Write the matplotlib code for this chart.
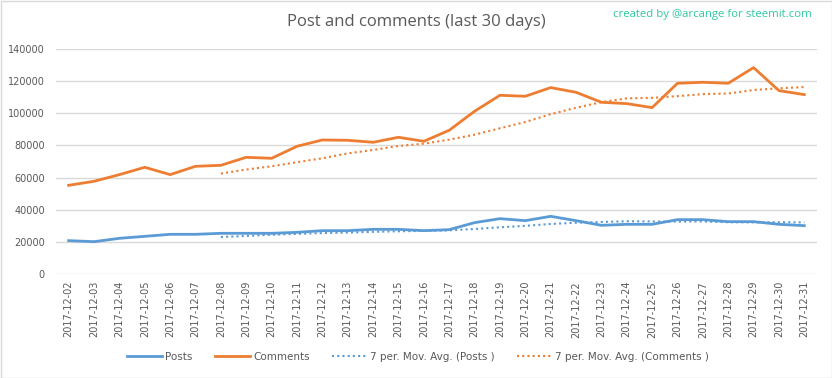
import matplotlib.pyplot as plt
import numpy as np
import pandas as pd
from matplotlib.patches import Rectangle

dates = ["2017-12-%02d" % d for d in range(2, 32)]

posts = [20750, 20120, 22200, 23440, 24690, 24690, 25310, 25310, 25310, 25930,
         26970, 26970, 27800, 27800, 26970, 27590, 31950, 34440, 33200, 35890,
         33200, 30290, 30910, 30910, 33820, 33820, 32570, 32570, 30910, 30080]

comments = [55190, 57680, 61830, 66390, 61830, 67010, 67630, 72610, 71990, 79460,
            83400, 83200, 81950, 85060, 82570, 89420, 101240, 111200, 110580, 115980,
            113070, 106850, 106020, 103530, 118670, 119290, 118670, 128420, 114110, 111620]

# 7 period moving average, as the spreadsheet trendline does it
posts_ma = pd.Series(posts).rolling(7).mean()
comments_ma = pd.Series(comments).rolling(7).mean()

blue = "#5B9BD5"
orange = "#ED7D31"
grey = "#595959"
font = ["DejaVu Sans"]

fig = plt.figure(figsize=(8.32, 3.78), dpi=100)
fig.patches.append(Rectangle((0.5 / 832, 0.5 / 378), 831 / 832, 377 / 378,
                             transform=fig.transFigure, fill=False,
                             edgecolor="#D9D9D9", linewidth=1))

ax = fig.add_axes([56 / 832, 1 - 274 / 378, 761 / 832, 225 / 378])
x = np.arange(len(dates))

ax.plot(x, posts, color=blue, lw=2, label="Posts")
ax.plot(x, comments, color=orange, lw=2, label="Comments")
ax.plot(x, posts_ma, color=blue, lw=1.5, ls=(0, (1, 1.5)), label="7 per. Mov. Avg. (Posts )")
ax.plot(x, comments_ma, color=orange, lw=1.5, ls=(0, (1, 1.5)), label="7 per. Mov. Avg. (Comments )")

ax.set_xlim(-0.5, len(dates) - 0.5)
ax.set_ylim(0, 140000)
ax.set_yticks(np.arange(0, 140001, 20000))
ax.set_yticklabels([str(v) for v in range(0, 140001, 20000)], family=font, fontsize=7, color=grey)
ax.set_xticks(x)
ax.set_xticklabels(dates, rotation=90, family=font, fontsize=7, color=grey)
ax.tick_params(axis="y", length=0, pad=8)
ax.tick_params(axis="x", length=0, pad=5)
ax.grid(axis="y", color="#D9D9D9", lw=1)
ax.set_axisbelow(True)
for s in ax.spines.values():
    s.set_visible(False)

fig.text(0.5, 1 - 22 / 378, "Post and comments (last 30 days)", ha="center", va="center",
         fontsize=12, color=grey, family=["Open Sans", "DejaVu Sans"])
fig.text(812 / 832, 1 - 15 / 378, "created by @arcange for steemit.com", ha="right", va="center",
         fontsize=8.2, color="#2DC9A0", family=["Open Sans", "DejaVu Sans"])

leg = fig.legend(loc="center", bbox_to_anchor=(418 / 832, 1 - 357 / 378), ncol=4, frameon=False,
                 prop={"family": font, "size": 7.5}, handlelength=3.4, columnspacing=2.1,
                 handletextpad=0.3)
for t in leg.get_texts():
    t.set_color(grey)

fig.savefig("out.png", dpi=100)
